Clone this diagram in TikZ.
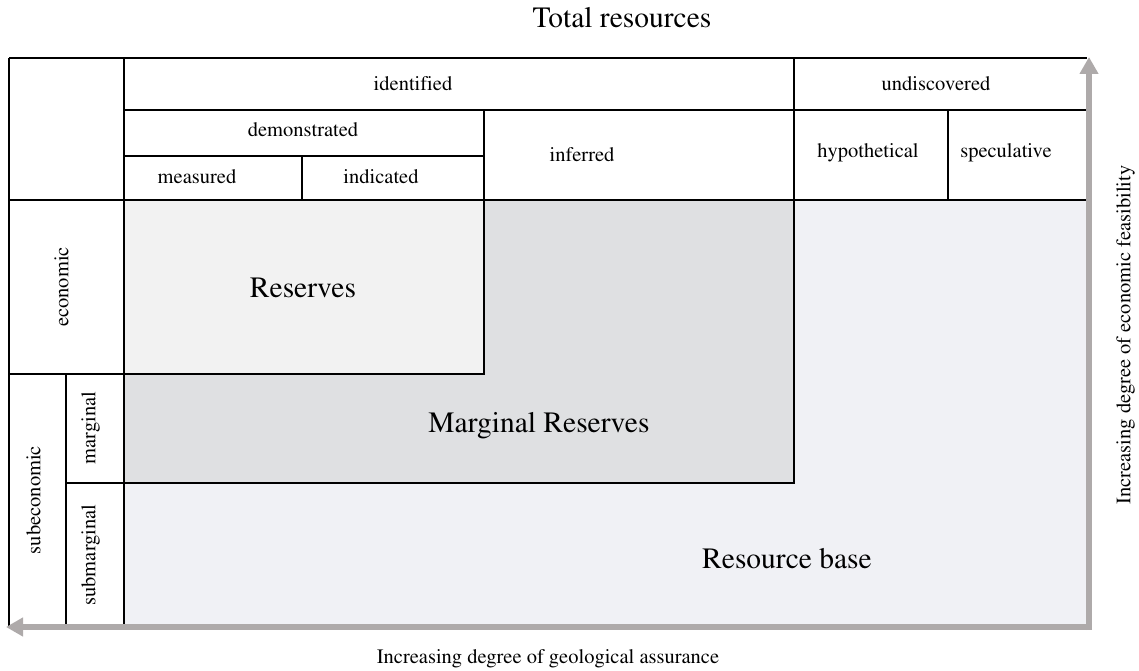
\documentclass[tikz,border=0pt]{standalone}
\usepackage[T1]{fontenc}
\renewcommand{\rmdefault}{ptm}
\usetikzlibrary{arrows.meta}
\definecolor{resfill}{HTML}{F2F2F2}
\definecolor{margfill}{HTML}{DFE0E2}
\definecolor{basefill}{HTML}{F0F1F5}
\definecolor{arrowgray}{HTML}{AEAAAA}
\begin{document}
\begin{tikzpicture}[x=1pt,y=-1pt,
  grid/.style={line width=2pt, draw=black},
  small/.style={font=\fontsize{20.5}{24}\selectfont, inner sep=0pt, anchor=base},
  big/.style={font=\fontsize{29.5}{34}\selectfont, inner sep=0pt, anchor=base},
  vsmall/.style={font=\fontsize{20.5}{24}\selectfont, inner sep=0pt, anchor=mid, rotate=90},
  axisarrow/.style={line width=6pt, draw=arrowgray, -{Triangle[width=18pt,length=17pt]}}]
\useasboundingbox (0,0) rectangle (1139,671);
% fills
\fill[basefill] (124,200) rectangle (1087,626);
\filldraw[fill=margfill, grid] (124,374) -- (484,374) -- (484,200) -- (794,200) -- (794,483) -- (124,483) -- cycle;
\filldraw[fill=resfill, grid] (124,200) rectangle (484,374);
% grid lines
\draw[grid] (9,58) -- (1087,58);
\draw[grid] (124,110) -- (1087,110);
\draw[grid] (124,156) -- (484,156);
\draw[grid] (9,200) -- (1087,200);
\draw[grid] (9,374) -- (124,374);
\draw[grid] (66,483) -- (124,483);
\draw[grid] (9,58) -- (9,626);
\draw[grid] (124,58) -- (124,626);
\draw[grid] (66,374) -- (66,626);
\draw[grid] (302,156) -- (302,200);
\draw[grid] (484,110) -- (484,200);
\draw[grid] (794,58) -- (794,200);
\draw[grid] (948,110) -- (948,200);
% axes
\coordinate (cornerV) at (1089,630);
\coordinate (cornerH) at (1092,627);
\coordinate (topend) at (1089,57);
\coordinate (leftend) at (6,627);
\draw[axisarrow] (cornerV) -- (topend);
\draw[axisarrow] (cornerH) -- (leftend);
% texts
\node[big] (total) at (622,28) {Total resources};
\node[small] (identified) at (413,91) {identif{}ied};
\node[small] (undiscovered) at (936,91) {undiscovered};
\node[small] (demonstrated) at (303,137) {demonstrated};
\node[small] (measured) at (197,183) {measured};
\node[small] (indicated) at (381,183) {indicated};
\node[small] (inferred) at (582,161) {inferred};
\node[small] (hypothetical) at (868,158) {hypothetical};
\node[small] (speculative) at (1006,158) {speculative};
\node[big] (reserves) at (303,297) {Reserves};
\node[big] (marginalres) at (539,432) {Marginal Reserves};
\node[big] (resbase) at (787,568) {Resource base};
\node[vsmall] (economic) at (66,287) {economic};
\node[vsmall] (subeconomic) at (38,500) {subeconomic};
\node[vsmall] (marginal) at (93,428) {marginal};
\node[vsmall] (submarginal) at (93,555) {submarginal};
\node[vsmall] (feas) at (1128,335) {Increasing degree of economic feasibility};
\node[small] (geo) at (548,663) {Increasing degree of geological assurance};
\end{tikzpicture}
\end{document}
